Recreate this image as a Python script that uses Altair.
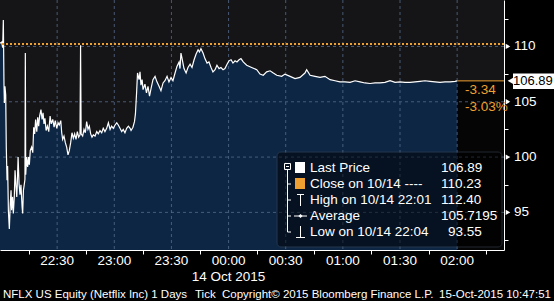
import altair as alt
import pandas as pd

# ---------------- data ----------------
minutes = [0.0, 0.9, 1.4, 1.75, 2.1, 2.3, 2.6, 3.0, 3.3, 3.7, 4.0, 4.4, 4.9, 5.4, 5.8, 6.1, 6.6, 7.0, 7.5, 7.9,
           8.4, 8.8, 9.1, 9.5, 10.0, 10.5, 11.0, 11.6, 11.9, 12.3, 12.8, 13.1, 13.3, 13.5, 14.0, 14.5, 15.0, 15.4,
           15.9, 16.6, 17.2, 17.7, 18.2, 18.7, 19.3, 19.8, 20.3, 20.8, 21.5, 22.1, 22.6, 23.1, 23.6, 24.2, 24.9,
           25.6, 26.3, 26.9, 27.7, 28.4, 29.0, 29.8, 30.5, 31.1, 31.9, 32.4, 32.9, 33.6, 34.3, 35.0, 35.7, 36.4,
           37.1, 37.8, 38.5, 39.2, 39.9, 40.6, 41.3, 42.0, 42.3, 42.6, 43.4, 44.1, 44.8, 45.5, 46.2, 46.9, 47.6,
           48.3, 49.0, 49.9, 50.8, 51.6, 52.5, 53.4, 54.2, 55.1, 56.0, 56.9, 57.8, 58.6, 59.5, 60.4, 61.3, 62.1,
           63.0, 63.9, 64.7, 65.6, 66.5, 67.4, 68.3, 68.8, 69.8, 70.6, 71.1, 71.7, 72.2, 73.0, 73.5, 74.0, 74.6,
           75.1, 76.1, 76.9, 77.7, 78.5, 79.3, 80.3, 81.4, 82.4, 83.5, 84.5, 85.6, 86.6, 87.7, 88.7, 89.8, 90.8,
           91.9, 92.9, 94.0, 94.5, 95.0, 95.6, 96.6, 97.7, 98.7, 99.8, 100.8, 101.9, 102.9, 104.0, 104.7, 105.5,
           106.6, 107.6, 108.7, 109.7, 110.8, 111.8, 112.9, 113.9, 115.0, 116.0, 117.1, 118.1, 119.2, 120.2,
           121.3, 122.3, 123.4, 124.4, 125.5, 126.5, 127.7, 129.5, 132.1, 134.8, 136.5, 138.2, 140.0, 141.8,
           143.5, 145.3, 147.9, 149.6, 152.3, 154.9, 157.5, 160.1, 161.0, 162.8, 165.4, 168.0, 170.6, 173.3,
           175.9, 178.5, 181.1, 183.8, 186.4, 189.0, 191.6, 194.3, 196.9, 199.5, 202.1, 204.8, 207.4, 210.0,
           212.6, 215.3, 217.9, 220.5, 223.1, 225.8, 228.4, 231.0, 233.6, 236.3, 238.9, 240.0]
prices = [110.3, 110.4, 109.9, 112.4, 106.5, 104.9, 106.4, 105.6, 100.9, 97.9, 99.2, 95.2, 93.5, 95.8, 97.0, 95.2,
          96.4, 94.9, 96.4, 98.8, 97.4, 96.4, 97.6, 100.0, 97.6, 96.6, 97.5, 95.5, 94.9, 97.0, 97.6, 98.0, 109.4,
          98.4, 100.0, 99.1, 100.0, 99.3, 100.6, 100.9, 100.4, 102.7, 102.1, 103.4, 102.3, 103.6, 102.8, 103.7,
          104.3, 103.4, 104.0, 103.0, 103.5, 102.4, 102.8, 102.3, 103.7, 103.0, 103.4, 102.7, 103.3, 102.6, 103.1,
          102.9, 103.3, 102.2, 101.6, 101.9, 101.3, 100.9, 100.2, 100.6, 101.3, 102.2, 101.7, 102.1, 101.6, 102.3,
          101.8, 102.0, 110.1, 102.1, 101.9, 102.5, 102.2, 103.2, 102.5, 102.8, 102.1, 101.8, 102.0, 101.9, 102.3,
          102.1, 102.4, 102.2, 102.6, 102.3, 102.6, 103.1, 102.5, 102.8, 102.6, 102.9, 103.1, 102.9, 102.6, 102.3,
          102.5, 102.2, 102.6, 102.8, 102.6, 102.4, 102.7, 103.2, 103.9, 105.8, 107.6, 107.0, 107.7, 106.5, 107.0,
          106.1, 106.6, 105.8, 106.4, 105.5, 106.2, 107.0, 107.3, 106.8, 106.4, 106.0, 106.7, 106.9, 107.3, 106.8,
          107.2, 106.9, 107.6, 108.2, 108.6, 108.0, 109.4, 108.9, 108.0, 107.6, 108.1, 108.4, 108.1, 108.8, 109.3,
          109.7, 109.5, 109.8, 109.4, 108.9, 108.5, 108.6, 108.1, 107.7, 107.9, 108.3, 108.0, 108.1, 107.9, 108.0,
          108.4, 108.7, 108.8, 108.5, 108.7, 108.6, 108.8, 108.9, 108.6, 108.3, 108.1, 107.9, 107.5, 107.4, 107.7,
          107.8, 107.6, 107.4, 107.3, 107.5, 107.3, 107.1, 107.2, 107.6, 107.9, 107.4, 107.3, 107.2, 107.3, 107.0,
          106.9, 106.8, 106.8, 106.75, 106.9, 106.8, 106.7, 106.65, 106.7, 106.7, 106.75, 106.9, 106.75, 106.8,
          106.75, 106.75, 106.8, 106.85, 106.9, 106.85, 106.8, 106.75, 106.8, 106.8, 106.85, 106.89]

x_domain = [0, 264.6]          # minutes after 22:00
y_domain = [91.6, 114.2]
close_price = 110.23
last_price = 106.89
last_minute = 240

grid_minutes = [30, 60, 90, 120, 150, 180, 210, 240]
time_labels = ["22:30", "23:00", "23:30", "00:00", "00:30", "01:00", "01:30", "02:00"]
minor_minutes = [15, 45, 75, 105, 135, 165, 195, 225, 255]
grid_prices = [95, 100, 105, 110]
price_labels = ["95", "100", "105", "110"]
minor_prices = [92.5, 97.5, 102.5, 107.5, 112.5]
date_label = "14 Oct 2015"
date_minute = 120
last_label = "106.89"
change_texts = ["-3.34", "-3.03%"]
legend_labels = ["Last Price", "Close on 10/14 ----", "High on 10/14 22:01", "Average", "Low on 10/14 22:04"]
legend_values = ["106.89", "110.23", "112.40", "105.7195", "93.55"]
footer_texts = ["NFLX US Equity (Netflix Inc) 1 Days", "Tick",
                "Copyright\u00a9 2015 Bloomberg Finance L.P.", "15-Oct-2015 10:47:51"]

# ---------------- style ----------------
ORANGE = "#f0a030"
NAVY = "#0d2644"
GRID = "#5a7090"
FONT = "Liberation Sans"
W, H = 504, 250

price_df = pd.DataFrame({"t": minutes, "p": prices})
xlab_df = pd.DataFrame({"t": grid_minutes, "label": time_labels})
ylab_df = pd.DataFrame({"p": grid_prices, "label": price_labels})
one = pd.DataFrame({"k": [0]})
xs = alt.Scale(domain=x_domain, nice=False, zero=False)
ys = alt.Scale(domain=y_domain, nice=False, zero=False)

x_axis = alt.Axis(values=sorted(grid_minutes + minor_minutes), labels=False, title=None)
y_axis = alt.Axis(orient="right", values=sorted(grid_prices + minor_prices), labels=False, title=None)


def X(field):
    return alt.X(field, scale=xs, axis=x_axis, title=None)


def Y(field):
    return alt.Y(field, scale=ys, axis=y_axis, title=None)


area = alt.Chart(price_df).mark_area(color=NAVY, clip=True).encode(
    x=X("t:Q"), y=Y("p:Q"), y2=alt.datum(y_domain[0]),
)

last_box = alt.Chart(one).mark_rect(color="#050505").encode(
    x=alt.datum(last_minute), x2=alt.datum(x_domain[1]),
    y=alt.datum(last_price), y2=alt.datum(y_domain[0]),
)

hgrid = alt.Chart(pd.DataFrame({"p": grid_prices})).mark_rule(
    color=GRID, strokeDash=[3, 3], strokeWidth=1, opacity=0.75).encode(y=Y("p:Q"))
vgrid = alt.Chart(pd.DataFrame({"t": grid_minutes})).mark_rule(
    color=GRID, strokeDash=[3, 3], strokeWidth=1, opacity=0.75).encode(x=X("t:Q"))

line = alt.Chart(price_df).mark_line(color="#ffffff", strokeWidth=1.2, clip=True).encode(
    x=X("t:Q"), y=Y("p:Q"),
)

close_line = alt.Chart(one).mark_rule(color=ORANGE, strokeWidth=2, strokeDash=[2, 2]).encode(
    y=alt.datum(close_price))

last_rule = alt.Chart(one).mark_rule(color=ORANGE, strokeWidth=1).encode(
    x=alt.datum(last_minute), x2=alt.datum(x_domain[1]), y=alt.datum(last_price))

# axis labels drawn as text through the scales
xlabels = alt.Chart(xlab_df).mark_text(color="#ffffff", align="center", baseline="alphabetic",
                                       font=FONT, fontSize=13.5).encode(
    x=X("t:Q"), y=alt.value(265), text="label:N")
ylabels = alt.Chart(ylab_df).mark_text(color="#ffffff", align="left", baseline="middle",
                                       font=FONT, fontSize=13.5).encode(
    x=alt.value(514), y=Y("p:Q"), text="label:N")

change_layers = [
    alt.Chart(one).mark_text(text=txt, color=ORANGE, align="left", baseline="middle",
                             font=FONT, fontSize=13.5).encode(x=alt.value(465), y=alt.value(90 + 17 * i))
    for i, txt in enumerate(change_texts)
]

ytri = alt.Chart(pd.DataFrame({"p": grid_prices})).mark_point(
    shape="triangle-right", filled=True, color="#ffffff", opacity=1, size=28).encode(
    x=alt.value(508), y=Y("p:Q"))

tag_rect = alt.Chart(one).mark_rect(color="#ffffff").encode(
    x=alt.value(513), x2=alt.value(554), y=alt.value(73.5), y2=alt.value(89))
tag_tri = alt.Chart(one).mark_point(shape="triangle-left", filled=True, color="#ffffff",
                                    opacity=1, size=150).encode(x=alt.value(513), y=alt.datum(last_price))
tag_text = alt.Chart(one).mark_text(text=last_label, color="#000000", align="left", baseline="middle",
                                    font=FONT, fontSize=13).encode(x=alt.value(513), y=alt.datum(last_price))

date_text = alt.Chart(one).mark_text(text=date_label, color="#ffffff", align="center",
                                     baseline="alphabetic", font=FONT, fontSize=13.5).encode(
    x=alt.datum(date_minute), y=alt.value(281))

footer_x = [3, 195, 222, 551]
footer_align = ["left", "left", "left", "right"]
footer_layers = [
    alt.Chart(one).mark_text(text=txt, color="#ffffff", align=al, baseline="alphabetic",
                             font=FONT, fontSize=11.5).encode(x=alt.value(fx), y=alt.value(298))
    for txt, fx, al in zip(footer_texts, footer_x, footer_align)
]

# ---------------- legend box ----------------
legend_bg = alt.Chart(one).mark_rect(color="#000000", opacity=0.5, stroke="#3a4656",
                                     strokeWidth=1, cornerRadius=4).encode(
    x=alt.value(277), x2=alt.value(502), y=alt.value(152), y2=alt.value(247))

row_y = [168 + 16 * i for i in range(5)]
legend_layers = []
for i, (lab, val) in enumerate(zip(legend_labels, legend_values)):
    legend_layers.append(alt.Chart(one).mark_text(
        text=lab, color="#ffffff", align="left", baseline="middle", font=FONT, fontSize=13.5).encode(
        x=alt.value(310), y=alt.value(row_y[i])))
    legend_layers.append(alt.Chart(one).mark_text(
        text=val, color="#ffffff", align="left", baseline="middle", font=FONT, fontSize=13.5).encode(
        x=alt.value(448 if i == 4 else 441), y=alt.value(row_y[i])))


def prule(x, x2, y, y2, color="#ffffff", w=1):
    return alt.Chart(one).mark_rule(color=color, strokeWidth=w).encode(
        x=alt.value(x), x2=alt.value(x2), y=alt.value(y), y2=alt.value(y2))


def prect(x, x2, y, y2, color):
    return alt.Chart(one).mark_rect(color=color).encode(
        x=alt.value(x), x2=alt.value(x2), y=alt.value(y), y2=alt.value(y2))


icons = [
    alt.Chart(one).mark_rect(fillOpacity=0, stroke="#ffffff", strokeWidth=1).encode(
        x=alt.value(284.5), x2=alt.value(290.5), y=alt.value(163.5), y2=alt.value(169.5)),
    prule(286, 289, 166.5, 166.5),
    prule(287.5, 287.5, 170, 232),
    prule(287.5, 291, row_y[1], row_y[1]),
    prule(287.5, 291, row_y[2], row_y[2]),
    prule(287.5, 291, row_y[3], row_y[3]),
    prule(287.5, 291, row_y[4], row_y[4]),
    prect(295, 305, 162, 173, "#ffffff"),
    prect(295, 305, 178, 189, ORANGE),
    prule(297, 304, 194.5, 194.5),
    prule(300.5, 300.5, 194.5, 206),
    prule(294, 307, row_y[3], row_y[3]),
    alt.Chart(one).mark_point(shape="diamond", filled=True, color="#ffffff", opacity=1, size=18).encode(
        x=alt.value(300.5), y=alt.value(row_y[3])),
    prule(300.5, 300.5, 226, 237.5),
    prule(296, 305, 237.5, 237.5),
]

chart = alt.layer(
    area, last_box, hgrid, vgrid, line, close_line, last_rule, xlabels, ylabels, *change_layers,
    ytri, tag_rect, tag_tri, tag_text, date_text, *footer_layers,
    legend_bg, *legend_layers, *icons,
).properties(
    width=W, height=H, background="#000000",
    padding={"left": 0, "top": 0, "right": 50, "bottom": 51},
    autosize=alt.AutoSizeParams(type="none"),
).configure_view(fill="#151518", stroke=None).configure_axis(
    grid=False, domainColor="#ffffff", domainWidth=1, tickColor="#ffffff", tickSize=4,
)

chart.save("out.html", embed_options={"renderer": "svg", "actions": False})
